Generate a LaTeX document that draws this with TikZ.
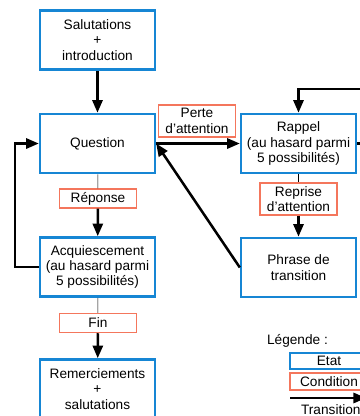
\documentclass[tikz,border=0pt]{standalone}
\usepackage{fontspec}
\setmainfont{Liberation Sans}
\usetikzlibrary{arrows.meta}

\definecolor{etatblue}{RGB}{22,134,212}
\definecolor{condred}{RGB}{244,118,92}

\tikzset{
  etat/.style={draw=etatblue, line width=2pt, minimum width=3.19cm, minimum height=1.64cm, align=center, inner sep=1pt},
  cond/.style={draw=condred, line width=1.1pt, minimum width=2.14cm, minimum height=0.53cm, align=center, inner sep=1pt},
  trans/.style={line width=2pt, -{Triangle[length=10pt,width=8pt]}},
}

\begin{document}
\begin{tikzpicture}[font=\fontsize{10.8}{12.2}\selectfont]
\clip (0,0) rectangle (10,11.556);

% etats
\node[etat] (sal) at (2.708,10.444) {Salutations\\+\\introduction};
\node[etat] (quest) at (2.708,7.569) {Question};
\node[etat] (acq) at (2.708,4.139) {Acquiescement\\(au hasard parmi\\5 possibilités)};
\node[etat] (rem) at (2.708,0.75) {Remerciements\\+\\salutations};
\node[etat] (rappel) at (8.292,7.569) {Rappel\\(au hasard parmi\\5 possibilités)};
\node[etat] (phrase) at (8.292,4.125) {Phrase de\\transition};

% conditions
\node[cond] (rep) at (2.722,6.042) {Réponse};
\node[cond] (fin) at (2.722,2.583) {Fin};
\node[cond, minimum height=0.89cm] (perte) at (5.472,8.194) {Perte\\d'attention};
\node[cond, minimum height=0.89cm] (reprise) at (8.292,6.028) {Reprise\\d'attention};

% transitions
\draw[trans] (sal) -- (quest);
\draw (quest) -- (rep);
\draw[trans] (rep) -- (acq);
\draw (acq) -- (fin);
\draw[trans] (fin) -- (rem);
\draw[trans] (acq.west) -- ++(-0.667,0) |- (quest.west);
\draw[trans] (quest.east) -- (rappel.west);
\draw (rappel) -- (reprise);
\draw[trans] (reprise) -- (phrase);
\draw[trans] (phrase.west) -- (quest.east);
\draw[trans] (rappel.east) -- ++(0.6,0) |- (8.292,9.083) -- (rappel.north);

% legende
\node (leg) at (8.264,2.083) {Légende :};
\node[etat, minimum width=2.167cm, minimum height=0.444cm, inner sep=0pt] (legetat) at (9.139,1.528) {Etat};
\node[cond, minimum width=2.167cm, minimum height=0.472cm, inner sep=0pt] (legcond) at (9.139,0.958) {Condition};
\coordinate (tra) at (8.056,0.5);
\coordinate (trb) at (10.17,0.5);
\draw[trans] (tra) -- (trb);
\node (legtrans) at (9.19,0.17) {Transition};
\end{tikzpicture}
\end{document}
